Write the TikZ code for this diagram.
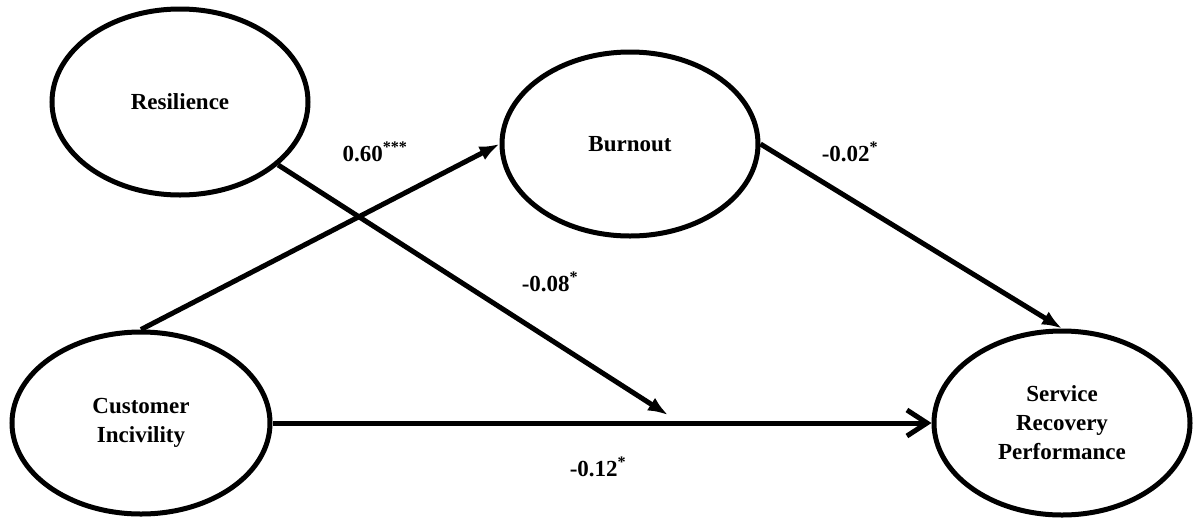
\documentclass[tikz,border=0pt]{standalone}
\usepackage{fontspec}
\setmainfont{Liberation Serif}
\usetikzlibrary{shapes.geometric,arrows.meta}
\begin{document}
\begin{tikzpicture}[x=1pt,y=-1pt,
  latent/.style={ellipse,draw=black,line width=5pt,inner sep=0pt,align=center,
    font=\fontsize{23}{29}\selectfont\bfseries},
  path/.style={line width=5pt,-{Latex[length=20pt,width=15pt]}},
  direct/.style={line width=5pt,-{Straight Barb[length=20pt,width=26pt,line width=5pt]}},
  coef/.style={font=\fontsize{23}{26}\selectfont\bfseries,inner sep=0pt}]
\useasboundingbox (0,0) rectangle (1199,517);
\node[latent,minimum width=256pt,minimum height=186pt] (res) at (180,102) {Resilience};
\node[latent,minimum width=256pt,minimum height=184pt] (bur) at (630,144) {Burnout};
\node[latent,minimum width=258pt,minimum height=182pt] (ci) at (141,423) {Customer\\Incivility};
\node[latent,minimum width=256pt,minimum height=184pt] (srp) at (1062,423) {Service\\Recovery\\Performance};
\coordinate (mod) at (668,415);
\draw[path] (ci.north) -- (bur.west);
\draw[path] (res) -- (mod);
\draw[direct] (ci.east) -- (srp.west);
\draw[path] (bur.east) -- (srp.north);
\node[coef] (c1) at (375,152) {0.60\textsuperscript{***}};
\node[coef] (c2) at (850,152) {-0.02\textsuperscript{*}};
\node[coef] (c3) at (550,282) {-0.08\textsuperscript{*}};
\node[coef] (c4) at (598,467) {-0.12\textsuperscript{*}};
\end{tikzpicture}
\end{document}
